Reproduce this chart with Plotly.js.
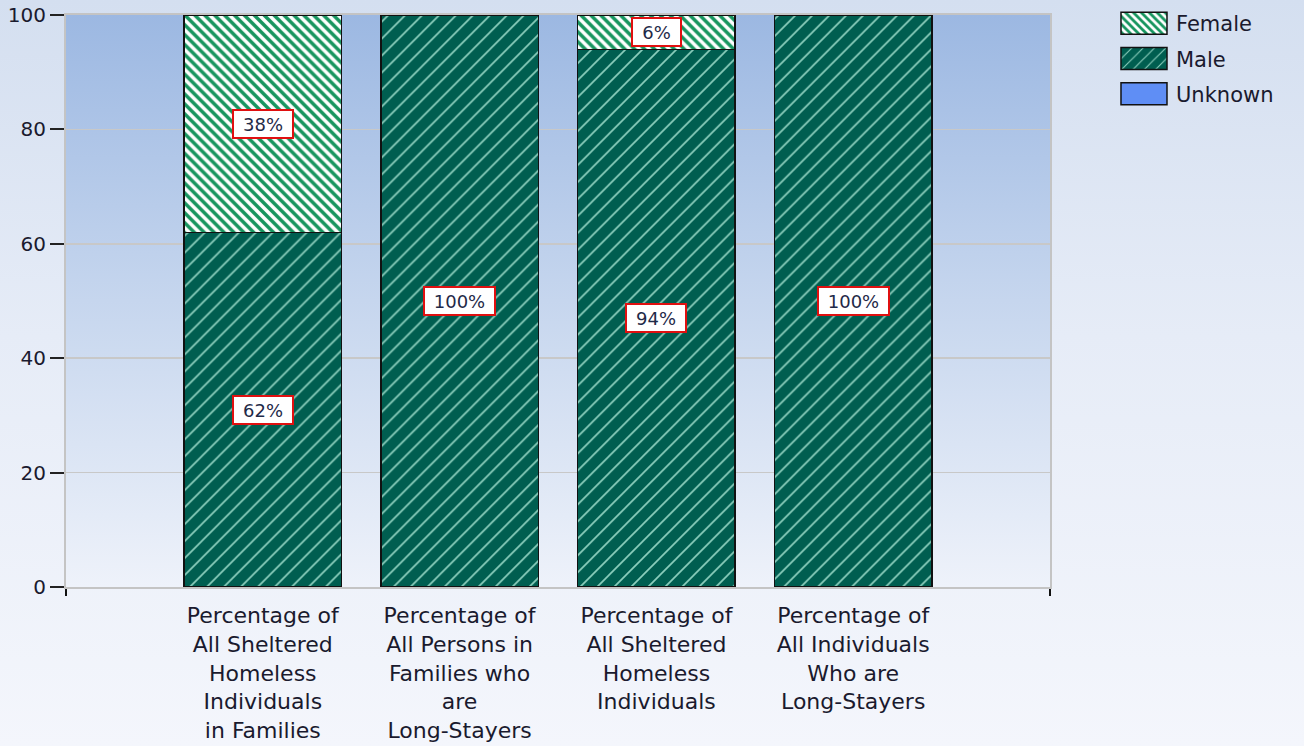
<!DOCTYPE html>
<html>
<head>
<meta charset="utf-8">
<script src="https://cdn.plot.ly/plotly-3.0.1.min.js"></script>
<style>
  html, body { margin:0; padding:0; }
  body { width:1304px; height:746px; background: linear-gradient(to bottom, #d4dff0 0%, #e6ecf7 45%, #f4f6fc 100%); }
  #chart { width:1304px; height:746px; }
</style>
</head>
<body>
<div id="chart"></div>
<script>
const categories = [
  "Percentage of<br>All Sheltered<br>Homeless<br>Individuals<br>in Families",
  "Percentage of<br>All Persons in<br>Families who<br>are<br>Long-Stayers",
  "Percentage of<br>All Sheltered<br>Homeless<br>Individuals",
  "Percentage of<br>All Individuals<br>Who are<br>Long-Stayers"
];
const maleValues = [62, 100, 94, 100];
const femaleValues = [38, 0, 6, 0];
const unknownValues = [0, 0, 0, 0];
const yTicks = [0, 20, 40, 60, 80, 100];

const xPos = categories.map((c, i) => i);
const FONT = "DejaVu Sans, Verdana, sans-serif";

const traces = [
  { name: "Unknown", legendgroup: "u", legendrank: 3, type: "bar", x: xPos, y: unknownValues, width: 0.8,
    marker: { color: "#5f8ef5", line: { color: "#111", width: 1.5 } }, hoverinfo: "skip" },
  { name: "Male", legendgroup: "m", legendrank: 2, type: "bar", x: xPos, y: maleValues, width: 0.8,
    marker: { color: "#005e50", line: { color: "#111", width: 1.5 },
      pattern: { shape: "/", bgcolor: "#005e50", fgcolor: "#8ccfbd", fgopacity: 1, size: 12, solidity: 0.14, fillmode: "overlay" } },
    hoverinfo: "skip" },
  { name: "Female", legendgroup: "f", legendrank: 1, type: "bar", x: xPos, y: femaleValues, width: 0.8,
    marker: { color: "#ffffff", line: { color: "#111", width: 1.5 },
      pattern: { shape: "\\", bgcolor: "#ffffff", fgcolor: "#17955f", fgopacity: 1, size: 7, solidity: 0.5, fillmode: "overlay" } },
    hoverinfo: "skip" }
];

// measure label text to give boxes a roomy width
const cnv = document.createElement("canvas").getContext("2d");
cnv.font = "18px 'DejaVu Sans'";

// labels at segment middles, built from the data
const annotations = [];
const series = [unknownValues, maleValues, femaleValues];
xPos.forEach((x, i) => {
  let base = 0;
  series.forEach(vals => {
    const v = vals[i];
    if (v > 0) {
      const t = v + "%";
      annotations.push({
        x: x, y: base + v / 2, xref: "x", yref: "y", text: t, showarrow: false,
        width: Math.round(cnv.measureText(t).width + 16), height: 24,
        font: { family: FONT, size: 18, color: "#1f2a48" },
        bgcolor: "#ffffff", bordercolor: "#e01010", borderwidth: 2, borderpad: 1
      });
    }
    base += v;
  });
});

const gradSvg = '<svg xmlns="http://www.w3.org/2000/svg" width="100" height="100" preserveAspectRatio="none">' +
  '<defs><linearGradient id="g" x1="0" y1="0" x2="0" y2="1">' +
  '<stop offset="0" stop-color="#9cb8e2"/><stop offset="0.5" stop-color="#c6d6ee"/><stop offset="1" stop-color="#eef2fa"/>' +
  '</linearGradient></defs><rect width="100" height="100" fill="url(#g)"/></svg>';

const layout = {
  width: 1304, height: 746,
  margin: { l: 66, r: 254, t: 3, b: 159 },
  paper_bgcolor: "rgba(0,0,0,0)",
  plot_bgcolor: "rgba(0,0,0,0)",
  barmode: "stack",
  showlegend: true,
  font: { family: FONT, color: "#1a1a2e" },
  images: [{
    source: "data:image/svg+xml;charset=utf-8," + encodeURIComponent(gradSvg),
    xref: "x domain", yref: "y domain", x: 0, y: 1, sizex: 1, sizey: 1,
    sizing: "stretch", xanchor: "left", yanchor: "top", layer: "below"
  }],
  xaxis: {
    range: [-1, 4], tickmode: "array", tickvals: xPos, ticktext: categories,
    ticks: "", ticklen: 0, ticklabelstandoff: 8, showgrid: false, zeroline: false,
    showline: true, linecolor: "#c4c4c4", linewidth: 2, mirror: true,
    tickfont: { family: FONT, size: 22, color: "#1a1a2e" },
    minor: { tickmode: "array", tickvals: [-1, 4], ticks: "outside", ticklen: 7, tickwidth: 2, tickcolor: "#111", showgrid: false },
    fixedrange: true
  },
  yaxis: {
    domain: [0, 572 / 584],
    range: [0, 100], tickmode: "array", tickvals: yTicks,
    ticks: "outside", ticklen: 14, tickwidth: 2, tickcolor: "#222",
    showgrid: true, gridcolor: "#c8c8c8", gridwidth: 1.5, zeroline: false,
    showline: true, linecolor: "#c4c4c4", linewidth: 2, mirror: true,
    tickfont: { family: FONT, size: 20, color: "#1a1a2e" },
    fixedrange: true
  },
  legend: {
    x: 1.063, y: 1.0, xanchor: "left", yanchor: "top", traceorder: "grouped",
    bgcolor: "rgba(0,0,0,0)", itemwidth: 54, tracegroupgap: 5,
    font: { family: FONT, size: 21, color: "#1a1a2e" }
  },
  annotations: annotations
};

Plotly.newPlot("chart", traces, layout, { staticPlot: true, displayModeBar: false }).then(() => {
  document.querySelectorAll("#chart path.legendbar, #chart path.legendundefined").forEach(p => {
    p.setAttribute("d", "M23,11H-23V-11H23Z");
  });
});
</script>
</body>
</html>
